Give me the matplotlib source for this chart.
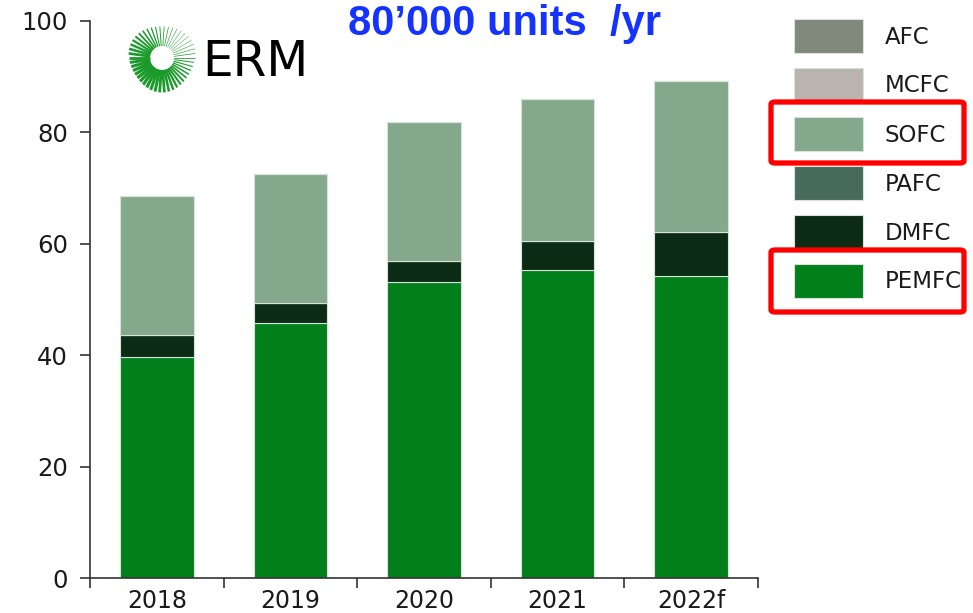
import matplotlib.pyplot as plt
import numpy as np
from matplotlib.patches import FancyBboxPatch, Rectangle

plt.rcParams['font.family'] = ['DejaVu Sans']

years = ['2018', '2019', '2020', '2021', '2022f']
series = ['AFC', 'MCFC', 'SOFC', 'PAFC', 'DMFC', 'PEMFC']
colors = {'AFC': '#7f897c', 'MCFC': '#b9b5ae', 'SOFC': '#84a88b',
          'PAFC': '#466b5b', 'DMFC': '#0b2b15', 'PEMFC': '#007f1b'}

# shipments, thousand units
pemfc = [39.6, 45.8, 53.1, 55.3, 54.2]
dmfc = [4.0, 3.6, 3.8, 5.2, 7.9]
pafc = [0.0, 0.0, 0.0, 0.0, 0.0]
sofc = [25.0, 23.1, 24.9, 25.5, 27.1]
mcfc = [0.0, 0.0, 0.0, 0.0, 0.0]
afc = [0.0, 0.0, 0.0, 0.0, 0.0]

W, H = 973, 613
fig = plt.figure(figsize=(W/100, H/100), dpi=100)
ax = fig.add_axes([90/W, 35/H, 668/W, 557/H])

x = np.arange(len(years))
bottom = np.zeros(len(years))
for name, vals in [('PEMFC', pemfc), ('DMFC', dmfc), ('PAFC', pafc),
                   ('SOFC', sofc), ('MCFC', mcfc), ('AFC', afc)]:
    vals = np.array(vals)
    ax.bar(x, vals, 0.55, bottom=bottom, color=colors[name],
           edgecolor='#d8e2d8', linewidth=0.8)
    bottom += vals

ax.set_xlim(-0.5, 4.5)
ax.set_ylim(0, 100)
ax.set_yticks([0, 20, 40, 60, 80, 100])
ax.set_xticks(x)
ax.set_xticklabels(years)
ax.set_xticks(np.arange(-0.5, 5, 1), minor=True)
ax.tick_params(axis='x', which='major', length=0, labelsize=17, pad=8)
ax.tick_params(axis='x', which='minor', length=7, width=1.2, color='#333333')
ax.tick_params(axis='y', length=7, width=1.2, color='#333333', labelsize=17.5, pad=9)
for lab in ax.get_xticklabels() + ax.get_yticklabels():
    lab.set_color('#1a1a1a')
for s in ['top', 'right']:
    ax.spines[s].set_visible(False)
for s in ['left', 'bottom']:
    ax.spines[s].set_color('#333333')
    ax.spines[s].set_linewidth(1.2)

# legend swatches, top to bottom
for i, name in enumerate(series):
    top = 19 + 49*i
    fig.add_artist(Rectangle((794/W, 1 - (top + 34)/H), 69/W, 34/H,
                             transform=fig.transFigure, facecolor=colors[name],
                             edgecolor='#d8e2d8', linewidth=0.8))
    fig.text(885/W, 1 - (top + 18)/H, name, ha='left', va='center',
             fontsize=16.5, color='#1a1a1a')

# red highlight boxes around SOFC and PEMFC
for y0, y1 in [(102, 163), (250, 312)]:
    box = FancyBboxPatch((771/W, 1 - y1/H), 193/W, (y1 - y0)/H,
                         boxstyle='round,pad=0,rounding_size=0.004',
                         transform=fig.transFigure, fill=False,
                         edgecolor='#ff0000', linewidth=3.8, zorder=5)
    fig.add_artist(box)

fig.text(505/W, 1 - 24/H, '80\u2019000 units  /yr', ha='center', va='center',
         fontsize=30, fontweight='bold', color='#1433ff', family='Liberation Sans')

# ERM logo: sunburst of rays plus wordmark
cx, cy = 162, 58
for a in np.linspace(0, 2*np.pi, 46, endpoint=False):
    w = 1.3 + 1.0*np.cos(a - 3.9)
    r0, r1 = 12, 33 + 1.5*np.sin(3*a)
    xs = [(cx + r0*np.cos(a))/W, (cx + r1*np.cos(a))/W]
    ys = [1 - (cy - r0*np.sin(a))/H, 1 - (cy - r1*np.sin(a))/H]
    fig.add_artist(plt.Line2D(xs, ys, color='#1b9a2b', linewidth=w,
                              transform=fig.transFigure, solid_capstyle='butt'))
fig.text(202/W, 1 - 62/H, 'ERM', ha='left', va='center', fontsize=35,
         color='black')

fig.savefig('out.png', dpi=100)
